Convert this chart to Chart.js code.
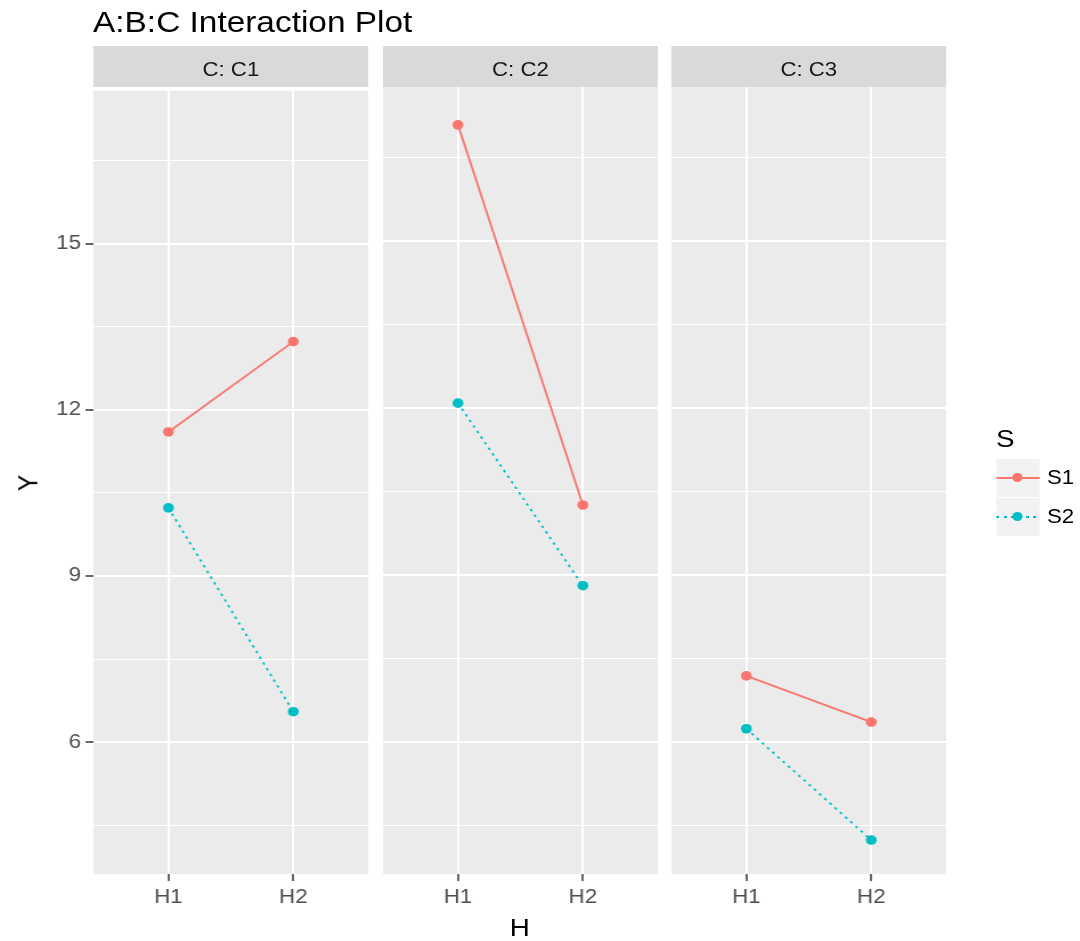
<!DOCTYPE html>
<html>
<head>
<meta charset="utf-8">
<script src="https://cdn.jsdelivr.net/npm/chart.js@4.4.0/dist/chart.umd.min.js"></script>
<style>
  body { margin: 0; background: #fff; overflow: hidden; }
  #page {
    position: relative; width: 947.4px; height: 941px;
    transform-origin: 0 0;
    font-family: "Liberation Sans", Arial, sans-serif;
  }
  .txt { position: absolute; line-height: 1; white-space: nowrap; }
  .strip { position: absolute; top: 46px; height: 41px; background: #D9D9D9; }
  .cv { position: absolute; }
  .key { position: absolute; width: 38.4px; height: 38.4px; background: #F2F2F2; }
  .key .ln { position: absolute; left: 0; right: 0; top: 18.2px; height: 2px; }
  .key .pt { position: absolute; left: 14.6px; top: 14.6px; width: 9.2px; height: 9.2px; border-radius: 50%; }
</style>
</head>
<body>
<div id="page"></div>
<script>
// facet levels, x levels and series
const facets = ['C1', 'C2', 'C3'];
const hLevels = ['H1', 'H2'];
const seriesNames = ['S1', 'S2'];
// Y means per facet, [H1, H2]
const s1Values = [[11.60, 13.23], [17.08, 10.25], [7.18, 6.35]];
const s2Values = [[10.23, 6.55], [12.08, 8.80], [6.23, 4.23]];
// y axis breaks
const yMajor = [6, 9, 12, 15];
const yMinor = [4.5, 7.5, 10.5, 13.5, 16.5];

const RED = '#F8766D';
const TEAL = '#00BFC4';
const FONT = "'Liberation Sans', Arial, sans-serif";
const seriesColors = [RED, TEAL];
const seriesDash = [[], [2.5, 4]];

const page = document.getElementById('page');
const panelLeft = [82, 336, 589];
const panelW = 241;
const axisW = 52;
const topPad = 12;
const xAxisH = 45;
const panelTop = 87, panelBottom = 874;

function addText(text, x, y, size, color, opts) {
  const d = document.createElement('div');
  d.className = 'txt';
  d.textContent = text;
  d.style.left = x + 'px';
  d.style.top = y + 'px';
  d.style.fontSize = size + 'px';
  d.style.color = color;
  d.style.transform = (opts && opts.transform) || 'translate(-50%, -50%)';
  page.appendChild(d);
  return d;
}

// title
addText('A:B:C Interaction Plot', 81.6, 22, 29.3, '#000', { transform: 'translateY(-50%)' });

// panel grey background
const panelBg = {
  id: 'panelBg',
  beforeDraw(chart) {
    const { ctx, chartArea: a } = chart;
    ctx.save();
    ctx.fillStyle = '#EBEBEB';
    ctx.fillRect(a.left, a.top, a.right - a.left, a.bottom - a.top);
    ctx.restore();
  }
};

const yTicks = yMinor.concat(yMajor).sort((a, b) => a - b);
const isMajor = v => yMajor.includes(v);

facets.forEach((facet, i) => {
  // strip
  const strip = document.createElement('div');
  strip.className = 'strip';
  strip.style.left = panelLeft[i] + 'px';
  strip.style.width = panelW + 'px';
  page.appendChild(strip);
  addText('C: ' + facet, panelLeft[i] + panelW / 2, 70, 19.5, '#1A1A1A');

  const wrap = document.createElement('div');
  wrap.className = 'cv';
  wrap.style.left = (panelLeft[i] - axisW) + 'px';
  wrap.style.top = (panelTop - topPad) + 'px';
  const canvas = document.createElement('canvas');
  canvas.width = axisW + panelW;
  canvas.height = topPad + (panelBottom - panelTop) + xAxisH;
  wrap.appendChild(canvas);
  page.appendChild(wrap);

  const values = [s1Values[i], s2Values[i]];
  const first = i === 0;

  new Chart(canvas.getContext('2d'), {
    type: 'line',
    data: {
      datasets: seriesNames.map((name, k) => ({
        label: name,
        data: hLevels.map((h, j) => ({ x: j + 1, y: values[k][j] })),
        borderColor: seriesColors[k],
        backgroundColor: seriesColors[k],
        borderWidth: 1.8,
        borderDash: seriesDash[k],
        pointRadius: 4.8,
        pointBorderWidth: 0,
        tension: 0
      }))
    },
    options: {
      responsive: false,
      devicePixelRatio: 1,
      animation: false,
      layout: { autoPadding: false, padding: { top: topPad, left: 0, right: 0, bottom: 0 } },
      plugins: { legend: { display: false }, tooltip: { enabled: false } },
      scales: {
        x: {
          type: 'linear',
          min: 0.4,
          max: 2.6,
          afterBuildTicks: s => { s.ticks = hLevels.map((h, j) => ({ value: j + 1 })); },
          afterFit: s => { s.height = xAxisH; s.paddingLeft = 0; s.paddingRight = 0; },
          ticks: {
            callback: v => hLevels[v - 1],
            color: '#4D4D4D',
            font: { family: FONT, size: 19.5 },
            padding: 5,
            maxRotation: 0,
            autoSkip: false
          },
          grid: { color: '#FFFFFF', lineWidth: 2, tickColor: '#333333', tickLength: 7, tickWidth: 1.5 },
          border: { display: false }
        },
        y: {
          type: 'linear',
          min: 3.62,
          max: 17.76,
          afterBuildTicks: s => { s.ticks = yTicks.map(v => ({ value: v })); },
          afterFit: s => { s.width = axisW; },
          ticks: {
            display: first,
            callback: v => isMajor(v) ? String(v) : '',
            color: '#4D4D4D',
            font: { family: FONT, size: 19.5 },
            padding: 4,
            autoSkip: false
          },
          grid: {
            color: '#FFFFFF',
            lineWidth: c => isMajor(c.tick.value) ? 2 : 1,
            drawTicks: first,
            tickColor: c => isMajor(c.tick.value) ? '#333333' : 'rgba(0,0,0,0)',
            tickLength: 7,
            tickWidth: 1.5
          },
          border: { display: false }
        }
      }
    },
    plugins: [panelBg]
  });
});

// axis titles
addText('H', (panelLeft[0] + panelLeft[2] + panelW) / 2, 928, 24.4, '#000');
addText('Y', 24.6, 483, 24.4, '#000', { transform: 'translate(-50%, -50%) rotate(-90deg)' });

// legend
addText('S', 873.7, 439, 24.4, '#000', { transform: 'translateY(-50%)' });
seriesNames.forEach((name, k) => {
  const top = 458.5 + k * 39;
  const key = document.createElement('div');
  key.className = 'key';
  key.style.left = '873.7px';
  key.style.top = top + 'px';
  const ln = document.createElement('div');
  ln.className = 'ln';
  ln.style.background = k === 0
    ? seriesColors[k]
    : 'repeating-linear-gradient(90deg, ' + seriesColors[k] + ' 0 2.5px, transparent 2.5px 6.5px)';
  const pt = document.createElement('div');
  pt.className = 'pt';
  pt.style.background = seriesColors[k];
  key.appendChild(ln);
  key.appendChild(pt);
  page.appendChild(key);
  addText(name, 918.4, top + 19.5, 19.5, '#000', { transform: 'translateY(-50%)' });
});

// widen the whole figure once the charts have been sized
page.style.transform = 'scaleX(1.14)';
</script>
</body>
</html>
